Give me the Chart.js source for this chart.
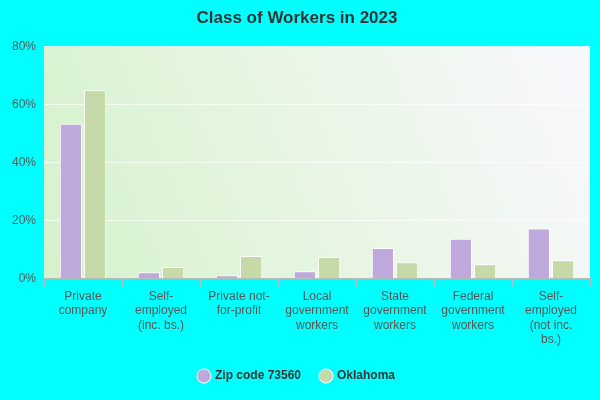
<!DOCTYPE html>
<html>
<head>
<meta charset="utf-8">
<script src="https://cdn.jsdelivr.net/npm/chart.js@4/dist/chart.umd.min.js"></script>
<style>
  body { margin: 0; background: #00ffff; }
  #wrap { width: 600px; height: 400px; }
</style>
</head>
<body>
<div id="wrap"><canvas id="chart"></canvas></div>
<script>
const categories = [
    ['Private', 'company'],
    ['Self-', 'employed', '(inc. bs.)'],
    ['Private not-', 'for-profit'],
    ['Local', 'government', 'workers'],
    ['State', 'government', 'workers'],
    ['Federal', 'government', 'workers'],
    ['Self-', 'employed', '(not inc.', 'bs.)']
];
const zipValues = [53.3, 2.1, 1.1, 2.5, 10.5, 13.7, 17.2];
const okValues = [64.9, 3.9, 7.7, 7.4, 5.6, 4.9, 6.3];
const yTicks = [0, 20, 40, 60, 80];

// Soft green-to-white wash behind the plot
const plotBackground = {
    id: 'plotBackground',
    beforeDraw(chart) {
        const { ctx, chartArea: a } = chart;
        const g = ctx.createLinearGradient(a.left, a.bottom, a.right, a.top);
        g.addColorStop(0, '#d4f2cc');
        g.addColorStop(0.55, '#eaf6e6');
        g.addColorStop(1, '#f8f8fd');
        ctx.save();
        ctx.fillStyle = g;
        ctx.fillRect(a.left, a.top, a.right - a.left, a.bottom - a.top);
        ctx.restore();
    }
};

Chart.defaults.font.family = '"Liberation Sans", Arial, sans-serif';

new Chart(document.getElementById('chart'), {
    type: 'bar',
    data: {
        labels: categories,
        datasets: [{
            label: 'Zip code 73560',
            data: zipValues,
            backgroundColor: '#bfa8dc',
            borderColor: '#ffffff',
            borderWidth: 1
        }, {
            label: 'Oklahoma',
            data: okValues,
            backgroundColor: '#c6d9a9',
            borderColor: '#ffffff',
            borderWidth: 1
        }]
    },
    options: {
        responsive: true,
        maintainAspectRatio: false,
        animation: false,
        layout: { padding: { left: 4, right: 10, top: 0, bottom: 8 } },
        datasets: { bar: { categoryPercentage: 0.62, barPercentage: 0.92 } },
        plugins: {
            title: {
                display: true,
                text: 'Class of Workers in 2023',
                color: '#333',
                font: { size: 17, weight: 'bold' },
                padding: { top: 8, bottom: 18 }
            },
            legend: {
                position: 'bottom',
                labels: {
                    usePointStyle: true,
                    pointStyle: 'circle',
                    boxWidth: 10,
                    boxHeight: 10,
                    color: '#333',
                    font: { size: 12, weight: 'bold' },
                    padding: 20
                }
            },
            tooltip: { enabled: false }
        },
        scales: {
            x: {
                grid: { display: true, drawOnChartArea: false, color: '#bbb', tickLength: 8 },
                border: { color: '#bbb' },
                ticks: { color: '#555', font: { size: 12 }, maxRotation: 0, autoSkip: false }
            },
            y: {
                min: 0,
                max: 80,
                afterBuildTicks(axis) { axis.ticks = yTicks.map(v => ({ value: v })); },
                grid: { color: 'rgba(255,255,255,0.7)', drawTicks: false },
                border: { display: false },
                ticks: { color: '#555', font: { size: 12 }, padding: 8, callback: v => v + '%' }
            }
        }
    },
    plugins: [plotBackground]
});
</script>
</body>
</html>
